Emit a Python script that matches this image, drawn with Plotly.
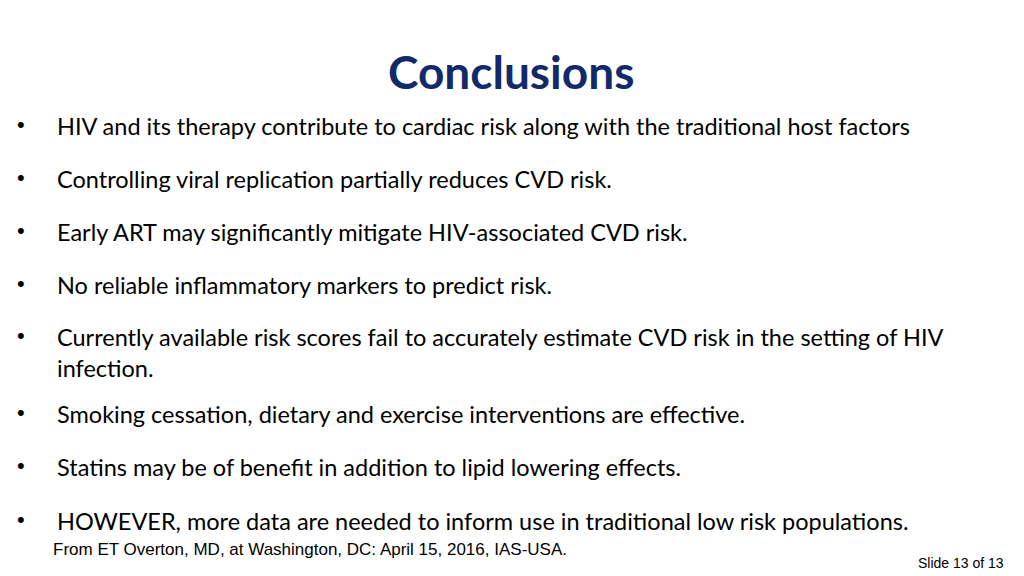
import plotly.graph_objects as go

title = "Conclusions"
bullets = [
    "HIV and its therapy contribute to cardiac risk along with the traditional host factors",
    "Controlling viral replication partially reduces CVD risk.",
    "Early ART may significantly mitigate HIV-associated CVD risk.",
    "No reliable inflammatory markers to predict risk.",
    "Currently available risk scores fail to accurately estimate CVD risk in the setting of HIV<br>infection.",
    "Smoking cessation, dietary and exercise interventions are effective.",
    "Statins may be of benefit in addition to lipid lowering effects.",
    "HOWEVER, more data are needed to inform use in traditional low risk populations.",
]
bullet_y = [125, 178, 231, 284, 336, 413, 466, 520]
footer = "From ET Overton, MD, at Washington, DC: April 15, 2016, IAS-USA."
slide_no = "Slide 13 of 13"

W, H = 1024, 576
DX, DY = -9, -9  # compensate page offset
def px(x): return (x + DX) / W
def py(y): return 1 - (y + DY) / H

fig = go.Figure()
anns = [dict(x=px(512), y=py(72), text="<b>" + title + "</b>", showarrow=False,
             xanchor="center", yanchor="middle",
             font=dict(family="Lato", size=46, color="#122a6b"))]
for t, y in zip(bullets, bullet_y):
    anns.append(dict(x=px(22), y=py(y), text="•", showarrow=False, xanchor="center",
                     yanchor="middle", font=dict(family="Arial", size=22, color="#000")))
    anns.append(dict(x=px(56), y=py(y - 14), text=t, showarrow=False, xanchor="left",
                     yanchor="top", align="left",
                     font=dict(family="Lato", size=23.5, color="#000")))
anns.append(dict(x=px(52), y=py(550), text=footer, showarrow=False, xanchor="left",
                 yanchor="middle", font=dict(family="Liberation Sans", size=17, color="#000")))
anns.append(dict(x=px(1007), y=py(564), text=slide_no, showarrow=False, xanchor="right",
                 yanchor="middle", font=dict(family="Liberation Sans", size=14, color="#000")))
fig.update_layout(width=W, height=H, margin=dict(l=0, r=0, t=0, b=0),
                  paper_bgcolor="white", plot_bgcolor="white",
                  xaxis=dict(visible=False, range=[0, 1]), yaxis=dict(visible=False, range=[0, 1]),
                  annotations=anns)
fig.write_html("out.html")
